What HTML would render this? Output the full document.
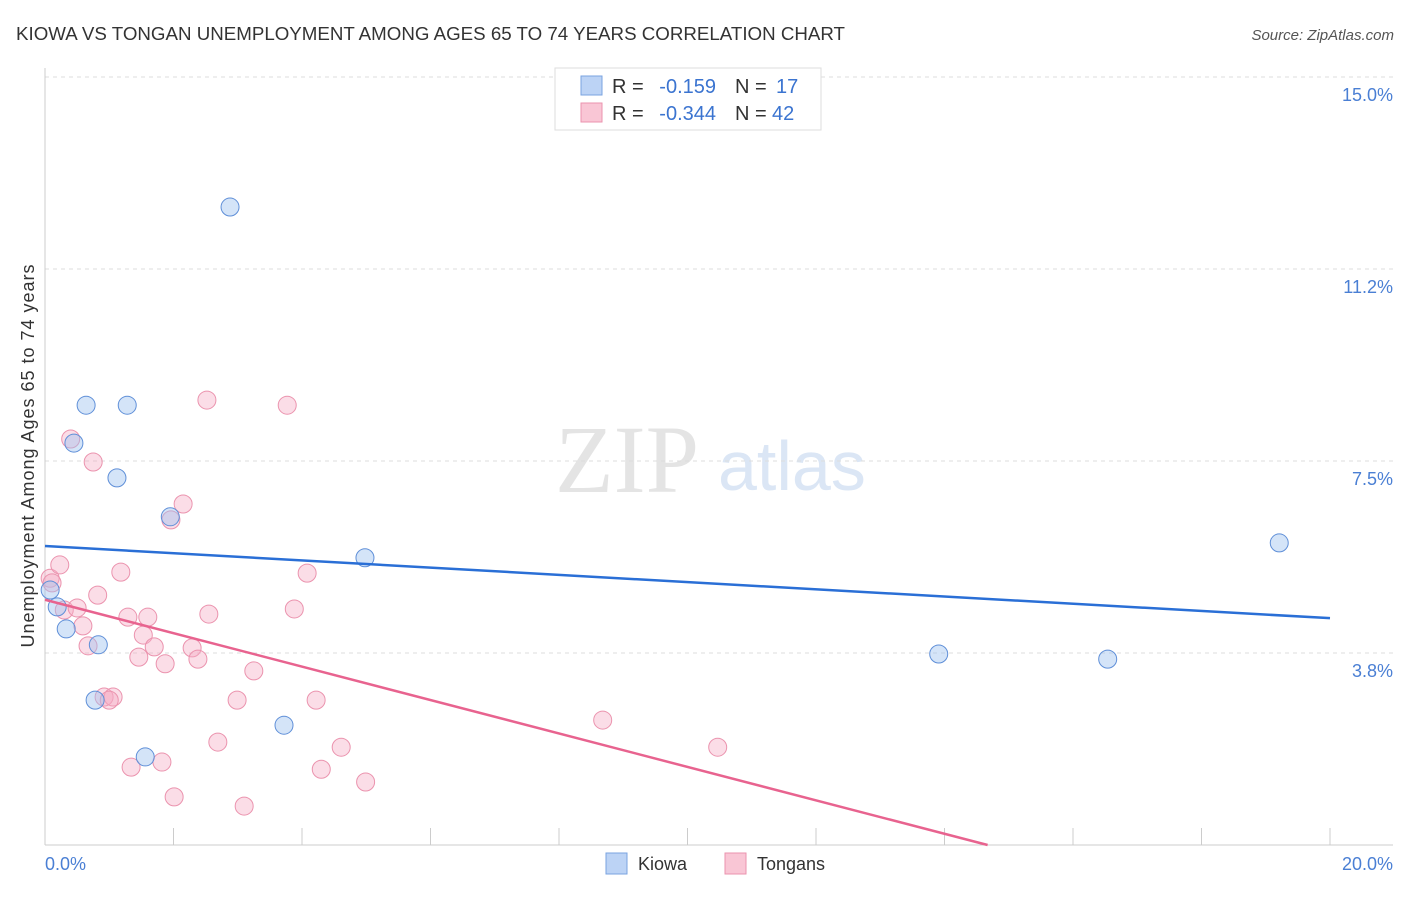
<!DOCTYPE html>
<html><head><meta charset="utf-8"><style>
body{margin:0;background:#fff;font-family:"Liberation Sans",sans-serif;}
</style></head><body>
<svg width="1406" height="892" xmlns="http://www.w3.org/2000/svg" font-family="Liberation Sans, sans-serif">
<text x="16" y="40" font-size="18" fill="#333" textLength="829" lengthAdjust="spacingAndGlyphs">KIOWA VS TONGAN UNEMPLOYMENT AMONG AGES 65 TO 74 YEARS CORRELATION CHART</text>
<text x="1394" y="40" font-size="15" fill="#555" font-style="italic" text-anchor="end">Source: ZipAtlas.com</text>
<text x="555" y="492" font-size="96" fill="#e4e4e4" font-family="Liberation Serif, serif">ZIP</text>
<text x="718" y="490" font-size="70" fill="#dbe6f5">atlas</text>
<g id="grid"></g>
<line x1="45" y1="68" x2="45" y2="845" stroke="#ccc"/>
<line x1="45" y1="845" x2="1393" y2="845" stroke="#ccc"/>
<text x="34" y="456" font-size="18" fill="#333" text-anchor="middle" textLength="383" transform="rotate(-90 34 456)">Unemployment Among Ages 65 to 74 years</text>
<text x="45" y="870" font-size="18" fill="#4a7fd4">0.0%</text>
<text x="1393" y="870" font-size="18" fill="#4a7fd4" text-anchor="end">20.0%</text>
<g id="marks"></g>
<g>
<rect x="555" y="68" width="266" height="62" fill="#fff" stroke="#ddd"/>
<rect x="581" y="76" width="21" height="19" fill="#bcd3f5" stroke="#7aa3e0"/>
<rect x="581" y="103" width="21" height="19" fill="#f9c6d5" stroke="#eb93ae"/>
<text x="612" y="93" font-size="20" fill="#333">R =</text>
<text x="716" y="93" font-size="20" fill="#3b74d0" text-anchor="end">-0.159</text>
<text x="735" y="93" font-size="20" fill="#333">N =</text>
<text x="776" y="93" font-size="20" fill="#3b74d0">17</text>
<text x="612" y="120" font-size="20" fill="#333">R =</text>
<text x="716" y="120" font-size="20" fill="#3b74d0" text-anchor="end">-0.344</text>
<text x="735" y="120" font-size="20" fill="#333">N =</text>
<text x="772" y="120" font-size="20" fill="#3b74d0">42</text>
</g>
<g>
<rect x="606" y="853" width="21" height="21" fill="#bcd3f5" stroke="#7aa3e0"/>
<text x="638" y="870" font-size="18" fill="#333">Kiowa</text>
<rect x="725" y="853" width="21" height="21" fill="#f9c6d5" stroke="#eb93ae"/>
<text x="757" y="870" font-size="18" fill="#333">Tongans</text>
</g>
</svg>
<script>
const yTicks=[3.75,7.5,11.25,15];
const yTickLabels=["3.8%","7.5%","11.2%","15.0%"];
const xTicks=[0,2,4,6,8,10,12,14,16,18,20];
const kiowaX=[0.08,0.19,0.33,0.64,0.45,1.28,1.12,0.83,0.78,1.56,1.95,2.88,3.72,4.98,13.91,16.54,19.21];
const kiowaY=[4.98,4.65,4.22,8.59,7.85,8.59,7.17,3.91,2.83,1.72,6.41,12.46,2.34,5.61,3.73,3.63,5.90];
const tonganX=[0.08,0.23,0.11,0.30,0.50,0.40,0.75,0.82,0.59,0.67,1.18,1.29,1.60,1.53,1.70,1.46,1.87,0.92,1.06,1.00,1.34,1.82,2.01,2.15,1.96,2.52,2.55,2.29,2.38,3.25,2.99,2.69,3.10,3.77,4.08,3.88,4.22,4.30,4.61,4.99,8.68,10.47];
const tonganY=[5.21,5.47,5.12,4.59,4.63,7.93,7.48,4.88,4.28,3.89,5.33,4.45,4.45,4.10,3.87,3.67,3.54,2.89,2.89,2.83,1.52,1.62,0.94,6.66,6.35,8.69,4.51,3.85,3.63,3.40,2.83,2.01,0.76,8.59,5.31,4.61,2.83,1.48,1.91,1.23,2.44,1.91];
const kiowaTrend=[5.84,4.43];
const tonganTrend=[4.79,-1.74];
const NS="http://www.w3.org/2000/svg";
const sx=v=>45+v/20*1285, sy=v=>845-v*51.2;
const grid=document.getElementById('grid'), marks=document.getElementById('marks');
function mk(tag,attrs,parent){const e=document.createElementNS(NS,tag);for(const k in attrs)e.setAttribute(k,attrs[k]);parent.appendChild(e);return e;}
yTicks.forEach((t,i)=>{
 const l=mk('line',{x1:45,x2:1393,y1:sy(t),y2:sy(t),stroke:'#ddd','stroke-dasharray':'4,4'},grid);
 
 
 const tx=mk('text',{x:1393,y:sy(t)+24,'font-size':18,fill:'#4a7fd4','text-anchor':'end'},grid);
 tx.textContent=yTickLabels[i];
 
 
});
xTicks.forEach(t=>{
 const l=mk('line',{x1:sx(t),x2:sx(t),y1:828,y2:845,stroke:'#ccc'},grid);
 
 
});
tonganX.forEach((x,i)=>{
 const c=mk('circle',{cx:sx(x),cy:sy(tonganY[i]),r:9,fill:'rgba(244,170,195,0.4)',stroke:'#eb93ae','stroke-width':1},marks);
 
 
});
kiowaX.forEach((x,i)=>{
 const c=mk('circle',{cx:sx(x),cy:sy(kiowaY[i]),r:9,fill:'rgba(160,195,240,0.45)',stroke:'#5f8fd8','stroke-width':1},marks);
 
 
});
const kl=mk('line',{x1:sx(0),y1:sy(kiowaTrend[0]),x2:sx(20),y2:sy(kiowaTrend[1]),stroke:'#2a6fd6','stroke-width':2.5},marks);


const slope=(tonganTrend[1]-tonganTrend[0])/20, xEnd=-tonganTrend[0]/slope;
const tl=mk('line',{x1:sx(0),y1:sy(tonganTrend[0]),x2:sx(xEnd),y2:sy(0),stroke:'#e8638f','stroke-width':2.5},marks);


</script>
</body></html>
